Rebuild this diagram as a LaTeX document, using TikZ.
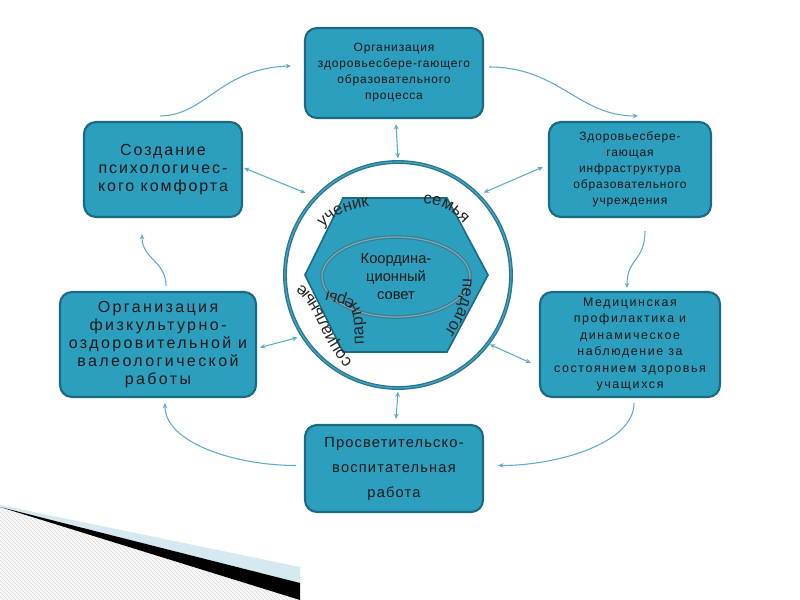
\documentclass[tikz,border=0pt]{standalone}
\usepackage{fontspec}
\setmainfont{Liberation Sans}
\usetikzlibrary{shapes.geometric,decorations.text,arrows.meta,calc,patterns}
\definecolor{boxfill}{RGB}{44,158,190}
\definecolor{boxedge}{RGB}{28,105,130}
\definecolor{arrowc}{RGB}{95,172,202}
\definecolor{ringc}{RGB}{35,120,145}
\definecolor{ringl}{RGB}{80,160,185}
\definecolor{ellc}{RGB}{60,125,145}
\definecolor{ellin}{RGB}{120,170,185}
\definecolor{band}{RGB}{214,232,240}
\newcommand\bigf{\fontsize{11}{13.5}\selectfont}
\newcommand\lsbig{\fontsize{12}{13.5}\selectfont\addfontfeatures{LetterSpace=12}}
\newcommand\lsll{\fontsize{12}{13.5}\selectfont\addfontfeatures{LetterSpace=15}}
\newcommand\lssmall{\fontsize{9}{12}\selectfont\addfontfeatures{LetterSpace=7}}
\newcommand\lsrl{\fontsize{9.3}{12.4}\selectfont\addfontfeatures{LetterSpace=13}}
\newcommand\lsbot{\fontsize{11}{18.75}\selectfont\addfontfeatures{LetterSpace=8}}
\newcommand\lblf{\fontsize{12.5}{12.5}\selectfont\color{black!85}}
\begin{document}
\begin{tikzpicture}[x=0.75pt,y=-0.75pt,
  box/.style={rectangle, rounded corners=9pt, fill=boxfill, draw=boxedge, line width=1.6pt, align=center, text=black!90, inner sep=2pt},
  flow/.style={draw=arrowc, line width=0.8pt, -{Stealth[length=4pt,width=3.5pt]}},
  dbl/.style={draw=arrowc, line width=0.8pt, {Stealth[length=4pt,width=3.5pt]}-{Stealth[length=4pt,width=3.5pt]}},
  curvelbl/.style={decorate, decoration={text along path, text align=center, text={|\lblf|#1}}}]
\useasboundingbox (0,0) rectangle (800,600);
\fill[white] (0,0) rectangle (800,600);
% corner decoration
\fill[gray!5] (0,507) -- (300,600) -- (0,600) -- cycle;
\pattern[pattern=north west lines, pattern color=gray!28] (0,507) -- (300,600) -- (0,600) -- cycle;
\fill[band] (0,505) -- (300,567) -- (300,583) -- (0,507) -- cycle;
\fill[black] (0,507) -- (300,583) -- (300,600) -- cycle;

% boxes
\node[box, minimum width=133.5pt, minimum height=67.5pt, font=\lssmall] (top) at (394,73) {Организация\\здоровьесбере-гающего\\образовательного\\процесса};
\node[box, minimum width=121.5pt, minimum height=71.25pt, font=\lssmall] (ru) at (630,169.5) {Здоровьесбере-\\гающая\\инфраструктура\\образовательного\\учреждения};
\node[box, minimum width=118.5pt, minimum height=71.25pt, font=\lsbig] (lu) at (163,169.5) {Создание\\психологичес-\\кого комфорта};
\node[box, minimum width=147pt, minimum height=78.75pt, font=\lsll] (ll) at (158,344.5) {Организация\\физкультурно-\\оздоровительной и\\валеологической\\работы};
\node[box, minimum width=135pt, minimum height=78.75pt, font=\lsrl] (rl) at (630,344.5) {Медицинская\\профилактика и\\динамическое\\наблюдение за\\состоянием здоровья\\учащихся};
\node[box, minimum width=133.5pt, minimum height=65.25pt, font=\lsbot] (bot) at (394,468.5) {Просветительско-\\воспитательная\\работа};

% centre
\node[circle, draw=ringc, line width=1pt, double=ringl, double distance=0.9pt, fill=white, minimum size=169.5pt] (circ) at (398,275) {};
\fill[boxfill, draw=boxedge, line width=1.2pt] (343,198) -- (447,198) -- (488,275) -- (447,352) -- (343,352) -- (305,275) -- cycle;
\node[ellipse, draw=ellc, line width=0.9pt, double=ellin, double distance=0.9pt, fill=boxfill, minimum width=111pt, minimum height=60pt, font=\bigf, align=center, text=black!90] (coord) at (396,277) {Координа-\\ционный\\совет};

% curved labels
\path[curvelbl={ученик}] (316,233) .. controls (340,212) .. (378,205);
\path[curvelbl={семья}] (414,203) .. controls (447,206) .. (470,230);
\path[curvelbl={педагог}] (463,270) .. controls (462,305) .. (440,340);
\path[curvelbl={социальные}] (354,364) .. controls (326,335) and (322,292) .. (298,284);
\path[curvelbl={партнеры}] (364,345) .. controls (362,300) .. (326,291);

% cycle arrows
\draw[flow] ($(lu.north)+(-3,-5)$) .. controls +(45,0) and +(-70,2) .. ($(top.west)+(-13,-7)$);
\draw[flow] ($(top.east)+(5,-6)$) .. controls +(70,0) and +(-60,0) .. ($(ru.north)+(8,-5)$);
\draw[flow] ($(ru.south)+(15,13)$) .. controls +(0,30) and +(0,-30) .. ($(rl.north)+(-3,-3)$);
\draw[flow] ($(rl.south)+(4,5)$) .. controls +(0,40) and +(60,0) .. ($(bot.east)+(14,-3)$);
\draw[flow] ($(bot.west)+(-8,-3)$) .. controls +(-60,0) and +(0,40) .. ($(ll.south)+(7,5)$);
\draw[flow] ($(ll.north)+(8,-5)$) .. controls +(0,-25) and +(0,25) .. ($(lu.south)+(-21,16)$);

% links to the centre
\draw[dbl] ($(top.south)+(2,5)$) -- ($(circ.north)+(0,-3)$);
\draw[dbl] ($(circ.south)+(0,3)$) -- ($(bot.north)+(2,-5)$);
\draw[dbl] ($(lu.east)+(1,-1.5)$) -- ($(circ.138)+(-8,-6)$);
\draw[dbl] ($(circ.44)+(4,-3.5)$) -- ($(ru.west)+(-5,-2.5)$);
\draw[dbl] ($(circ.-37)+(1,1)$) -- ($(rl.west)+(-8,18.5)$);
\draw[dbl] ($(ll.east)+(3,3)$) -- ($(circ.211)+(-3,4)$);
\end{tikzpicture}
\end{document}
